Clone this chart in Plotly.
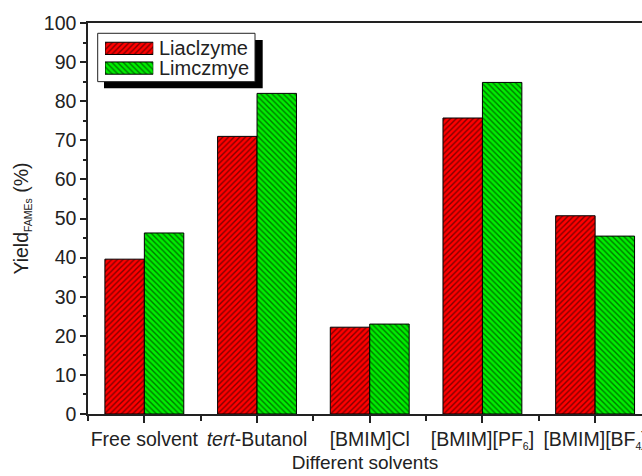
import plotly.graph_objects as go

SUB = '<sub><span style="font-size:10.5px">{}</span></sub>'
categories = ["Free solvent", "<i>tert</i>-Butanol", "[BMIM]Cl",
              "[BMIM][PF" + SUB.format("6") + "]", "[BMIM][BF" + SUB.format("4") + "]"]
series_names = ["Liaclzyme", "Limczmye"]
liaclzyme = [39.6, 71.0, 22.2, 75.7, 50.7]
limczmye = [46.3, 82.0, 23.0, 84.8, 45.5]
y_ticks = [0, 10, 20, 30, 40, 50, 60, 70, 80, 90, 100]

xpos = list(range(len(categories)))
FONT = "Liberation Sans, Arial, sans-serif"
INK = "#222"
RED = "#ff0000"
GREEN = "#00ee00"

# pixel geometry of the main plot area (for paper conversions of the legend box)
L, R, T, B = 88, 642, 23, 414.3
W, H = R - L, B - T


def px(x):
    return (x - L) / W


def py(y):
    return (B - y) / H


styles = [
    dict(color=RED, shape="/"),
    dict(color=GREEN, shape="\\"),
]


def marker(st):
    return dict(color=st["color"], line=dict(color="black", width=1),
                pattern=dict(shape=st["shape"], fgcolor="black", bgcolor=st["color"],
                             size=4, solidity=0.35))


fig = go.Figure()
for name, vals, st in zip(series_names, [liaclzyme, limczmye], styles):
    fig.add_trace(go.Bar(x=xpos, y=vals, name=name, marker=marker(st), showlegend=False))

# legend swatches drawn as a small inset bar chart
for i, (name, st) in enumerate(zip(series_names, styles)):
    fig.add_trace(go.Bar(x=[1], y=[len(series_names) - 1 - i], orientation="h", width=0.62,
                         marker=marker(st), xaxis="x2", yaxis="y2", showlegend=False,
                         hoverinfo="skip"))

annotations = []
row_y = [48.3, 68.0]
for name, yy in zip(series_names, row_y):
    annotations.append(dict(xref="paper", yref="paper", x=px(157), y=py(yy),
                            xanchor="left", yanchor="middle", text=name, showarrow=False,
                            font=dict(size=20, color=INK, family=FONT)))

fig.update_layout(
    width=642, height=476,
    margin=dict(l=L, r=0, t=T, b=476 - B),
    paper_bgcolor="white", plot_bgcolor="rgba(0,0,0,0)",
    barmode="group", bargap=0.3, bargroupgap=0,
    font=dict(family=FONT, size=19.5, color=INK),
    showlegend=False,
    xaxis=dict(
        range=[-0.5, 4.416], tickmode="array", tickvals=xpos, ticktext=categories,
        ticks="outside", ticklen=7, tickwidth=1.5, tickcolor=INK, ticklabeloverflow="allow",
        showline=True, linecolor=INK, linewidth=1.5, mirror=True, automargin=False,
        showgrid=False, zeroline=False,
        minor=dict(tick0=-0.5, dtick=1, ticks="outside", ticklen=5, tickwidth=1.5, tickcolor=INK),
        title=dict(text="Different solvents", standoff=0, font=dict(size=19)),
    ),
    yaxis=dict(
        range=[0, 100], tickmode="array", tickvals=y_ticks,
        ticks="outside", ticklen=6, tickwidth=1.5, tickcolor=INK, automargin=False,
        showline=True, linecolor=INK, linewidth=1.5, mirror=False,
        showgrid=False, zeroline=False,
        minor=dict(dtick=5, ticks="outside", ticklen=3, tickwidth=1.5, tickcolor=INK),
        title=dict(text="Yield" + SUB.format("FAMEs") + " (%)", standoff=10, font=dict(size=19.5)),
    ),
    xaxis2=dict(domain=[px(105), px(153.3)], range=[0, 1], anchor="y2", visible=False, fixedrange=True),
    yaxis2=dict(domain=[py(78.0), py(38.5)], range=[-0.5, 1.5], anchor="x2", visible=False, fixedrange=True),
    annotations=annotations,
    shapes=[
        dict(type="rect", xref="paper", yref="paper",
             x0=px(104), x1=px(262.7), y0=py(88.3), y1=py(40),
             fillcolor="black", line=dict(width=0), layer="below"),
        dict(type="rect", xref="paper", yref="paper",
             x0=px(97.7), x1=px(255), y0=py(81.7), y1=py(33.3),
             fillcolor="white", line=dict(color=INK, width=1), layer="below"),
    ],
)

fig.write_html("out.html")
